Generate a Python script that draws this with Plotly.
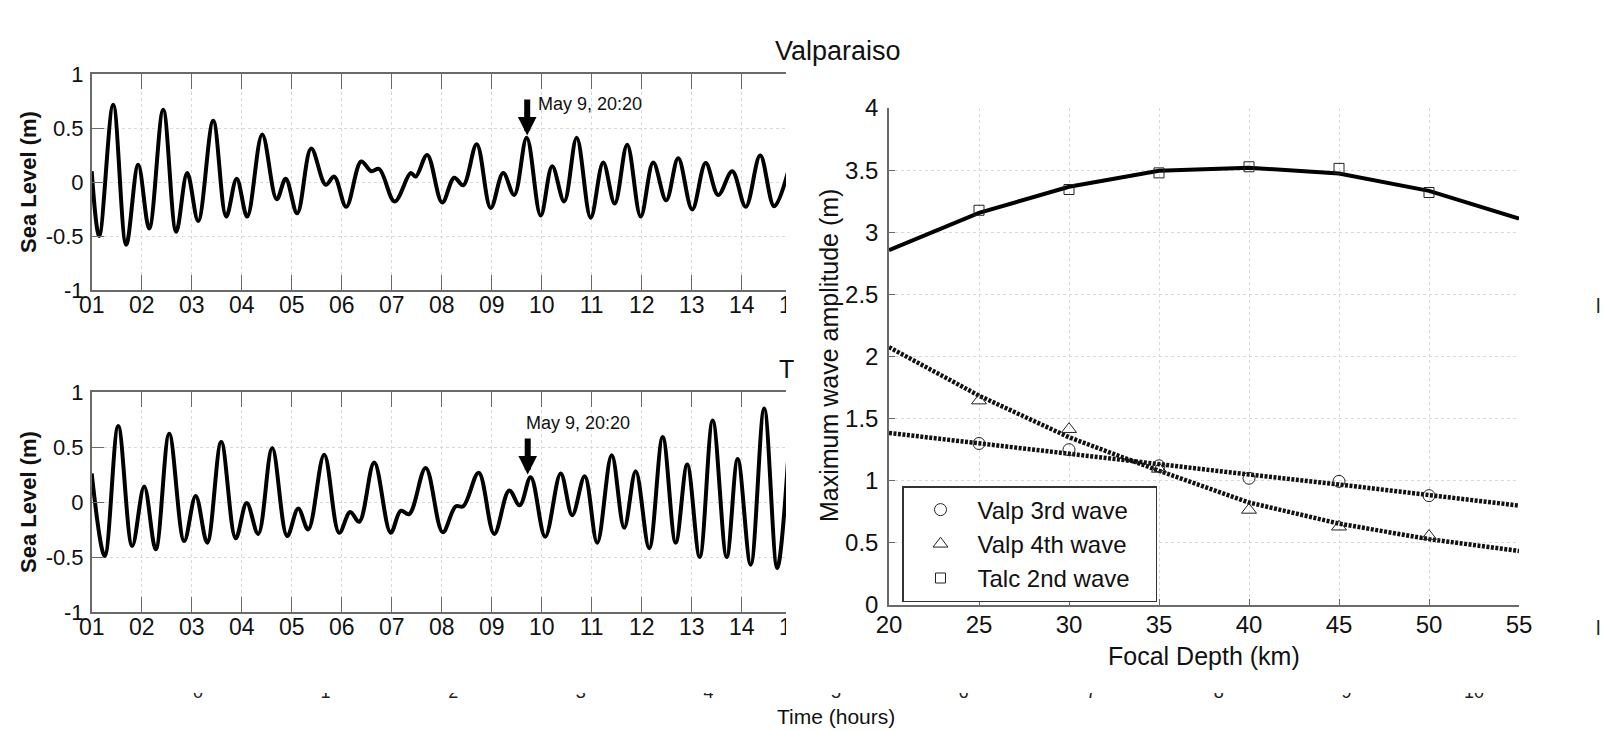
import plotly.graph_objects as go

# ---------------- data ----------------
# Left panels: sea level time series (hours since 01, metres), read at the turning points
valp_t = [1.0, 1.15, 1.43, 1.69, 1.93, 2.15, 2.43, 2.69, 2.91, 3.13, 3.43, 3.69, 3.90, 4.11, 4.41,
          4.70, 4.88, 5.11, 5.39, 5.68, 5.85, 6.09, 6.39, 6.59, 6.75, 7.06, 7.38, 7.48, 7.71, 8.01,
          8.25, 8.43, 8.70, 8.98, 9.23, 9.45, 9.70, 9.98, 10.21, 10.45, 10.70, 10.98, 11.23, 11.46,
          11.71, 11.98, 12.23, 12.49, 12.73, 13.01, 13.28, 13.53, 13.81, 14.08, 14.37, 14.65, 14.93]
valp_v = [0.10, -0.50, 0.715, -0.58, 0.16, -0.43, 0.67, -0.46, 0.083, -0.36, 0.567, -0.32, 0.03,
          -0.32, 0.44, -0.16, 0.03, -0.29, 0.31, -0.025, 0.05, -0.23, 0.19, 0.10, 0.12, -0.18, 0.083,
          0.05, 0.25, -0.19, 0.04, -0.03, 0.35, -0.24, 0.083, -0.12, 0.41, -0.31, 0.145, -0.18, 0.41,
          -0.33, 0.18, -0.20, 0.345, -0.32, 0.18, -0.17, 0.22, -0.255, 0.175, -0.12, 0.10, -0.23,
          0.245, -0.225, 0.10]

talc_t = [1.0, 1.26, 1.53, 1.81, 2.05, 2.28, 2.55, 2.85, 3.08, 3.31, 3.59, 3.88, 4.10, 4.33, 4.61,
          4.91, 5.13, 5.33, 5.65, 5.95, 6.17, 6.35, 6.65, 6.98, 7.18, 7.35, 7.68, 8.02, 8.28, 8.43,
          8.74, 9.05, 9.35, 9.56, 9.78, 10.07, 10.38, 10.61, 10.86, 11.11, 11.40, 11.65, 11.88,
          12.15, 12.42, 12.68, 12.91, 13.16, 13.42, 13.70, 13.92, 14.18, 14.45, 14.71, 14.93]
talc_v = [0.26, -0.49, 0.69, -0.40, 0.14, -0.43, 0.62, -0.355, 0.055, -0.37, 0.546, -0.33, -0.01,
          -0.29, 0.49, -0.31, -0.06, -0.25, 0.43, -0.28, -0.09, -0.18, 0.36, -0.28, -0.08, -0.11,
          0.31, -0.275, -0.04, -0.04, 0.265, -0.29, 0.105, -0.03, 0.225, -0.315, 0.26, -0.12, 0.235,
          -0.37, 0.426, -0.235, 0.28, -0.42, 0.59, -0.37, 0.34, -0.50, 0.74, -0.50, 0.39, -0.57,
          0.85, -0.60, 0.40]

hour_ticks = list(range(1, 16))
hour_labels = ["%02d" % h for h in hour_ticks]
sea_ticks = [-1, -0.5, 0, 0.5, 1]
sea_labels = ["-1", "-0.5", "0", "0.5", "1"]

# cut-off time axis at the bottom of the composite (only the feet of its labels show)
time_ticks = list(range(0, 11))

event_label = "May 9, 20:20"
event_hour_valp, event_val_valp = 9.71, 0.43
event_hour_talc, event_val_talc = 9.72, 0.25

# Right panel: maximum wave amplitude vs focal depth
depth = [25, 30, 35, 40, 45, 50]
valp3 = [1.30, 1.25, 1.12, 1.02, 0.995, 0.88]
valp4 = [1.645, 1.415, 1.095, 0.765, 0.63, 0.555]
talc2 = [3.177, 3.344, 3.478, 3.527, 3.514, 3.32]

fit_depth = [20, 25, 30, 35, 40, 45, 50, 55]
valp3_fit = [1.385, 1.30, 1.22, 1.135, 1.05, 0.97, 0.885, 0.80]
valp4_fit = [2.075, 1.685, 1.35, 1.08, 0.825, 0.655, 0.53, 0.435]
talc2_fit = [2.855, 3.156, 3.366, 3.495, 3.52, 3.473, 3.333, 3.11]

depth_ticks = [20, 25, 30, 35, 40, 45, 50, 55]
amp_ticks = [0, 0.5, 1, 1.5, 2, 2.5, 3, 3.5, 4]

series_names = ["Valp 3rd wave", "Valp 4th wave", "Talc 2nd wave"]

# ---------------- layout helpers ----------------
# the page body has an 8px margin, so the figure starts 8px in from the window corner
OFF = 8
W, H = 1600, 723
def px(x):
    return (x - OFF) / W
def py(y):
    return 1 - (y - OFF) / H

FONT = "Arial, Liberation Sans, Helvetica, sans-serif"
GRID = "#d9d9d9"
AXIS = "#6a6a6a"
PAD = "\u00a0\u00a0\u00a0"

fig = go.Figure()

fig.add_trace(go.Scatter(x=valp_t, y=valp_v, mode="lines", line=dict(color="black", width=4, shape="spline", smoothing=1.0),
                         xaxis="x", yaxis="y", showlegend=False))
fig.add_trace(go.Scatter(x=talc_t, y=talc_v, mode="lines", line=dict(color="black", width=4, shape="spline", smoothing=1.0),
                         xaxis="x2", yaxis="y2", showlegend=False))

# right panel fitted curves
fig.add_trace(go.Scatter(x=fit_depth, y=talc2_fit, mode="lines", line=dict(color="black", width=4),
                         xaxis="x3", yaxis="y3", showlegend=False))
fig.add_trace(go.Scatter(x=fit_depth, y=valp3_fit, mode="lines", line=dict(color="#111", width=4.5, dash="3px,1.5px"),
                         xaxis="x3", yaxis="y3", showlegend=False))
fig.add_trace(go.Scatter(x=fit_depth, y=valp4_fit, mode="lines", line=dict(color="#111", width=4.5, dash="3px,1.5px"),
                         xaxis="x3", yaxis="y3", showlegend=False))

mk_line = dict(color="#222222", width=1)
fig.add_trace(go.Scatter(x=depth, y=valp3, mode="markers", name=series_names[0] + PAD,
                         marker=dict(symbol="circle-open", size=12, color="#222222", line=mk_line),
                         xaxis="x3", yaxis="y3"))
fig.add_trace(go.Scatter(x=depth, y=valp4, mode="markers", name=series_names[1] + PAD,
                         marker=dict(symbol="triangle-up-open", size=13, color="#222222", line=mk_line),
                         xaxis="x3", yaxis="y3"))
fig.add_trace(go.Scatter(x=depth, y=talc2, mode="markers", name=series_names[2] + PAD,
                         marker=dict(symbol="square-open", size=10, color="#222222", line=mk_line),
                         xaxis="x3", yaxis="y3"))

# invisible trace so the cut-off time axis is laid out
fig.add_trace(go.Scatter(x=[0, 10], y=[0, 0], mode="markers", marker=dict(opacity=0, size=1),
                         xaxis="x4", yaxis="y4", showlegend=False, hoverinfo="skip"))

left_dom = [px(91.7), px(791.7)]
common_x_left = dict(range=[1, 15], tickvals=hour_ticks, ticktext=hour_labels, ticks="inside", ticklen=15,
                     tickcolor=AXIS, tickwidth=1, showline=True, linecolor=AXIS, linewidth=1.5, mirror="ticks",
                     showgrid=True, gridcolor=GRID, griddash="dot", gridwidth=1, zeroline=False,
                     tickfont=dict(family=FONT, size=23, color="#111"), ticklabelstandoff=-6, domain=left_dom,
                     automargin=False)
common_y_left = dict(range=[-1, 1], tickvals=sea_ticks, ticktext=sea_labels, ticks="inside", ticklen=13,
                     tickcolor=AXIS, tickwidth=1, showline=True, linecolor=AXIS, linewidth=1.5, mirror=False,
                     showgrid=True, gridcolor=GRID, griddash="dot", gridwidth=1, zeroline=False,
                     tickfont=dict(family=FONT, size=22, color="#111"), ticklabelstandoff=2, automargin=False)

fig.update_layout(
    template="none",
    width=W, height=H, margin=dict(l=0, r=0, t=0, b=0, pad=0, autoexpand=False),
    paper_bgcolor="white", plot_bgcolor="white",
    font=dict(family=FONT, color="#111"),
    xaxis=dict(common_x_left, anchor="y"),
    yaxis=dict(common_y_left, anchor="x", domain=[py(290), py(74)]),
    xaxis2=dict(common_x_left, anchor="y2"),
    yaxis2=dict(common_y_left, anchor="x2", domain=[py(612), py(392)]),
    xaxis3=dict(anchor="y3", domain=[px(889), px(1519)], range=[20, 55], tickvals=depth_ticks,
                ticks="inside", ticklen=6, tickcolor=AXIS, showline=True, linecolor=AXIS, linewidth=1.5,
                showgrid=True, gridcolor=GRID, griddash="dot", gridwidth=1, zeroline=False,
                tickfont=dict(family=FONT, size=24, color="#111"), ticklabelstandoff=-3, automargin=False),
    yaxis3=dict(anchor="x3", domain=[py(605), py(108)], range=[0, 4], tickvals=amp_ticks,
                ticks="inside", ticklen=6, tickcolor=AXIS, showline=True, linecolor=AXIS, linewidth=1.5,
                showgrid=True, gridcolor=GRID, griddash="dot", gridwidth=1, zeroline=False,
                tickfont=dict(family=FONT, size=24, color="#111"), ticklabelstandoff=4, automargin=False),
    xaxis4=dict(anchor="y4", domain=[px(198), px(1474)], range=[0, 10], tickvals=time_ticks,
                ticks="", showline=False, showgrid=False, zeroline=False, ticklabelstandoff=0,
                tickfont=dict(family=FONT, size=18, color="#222"), automargin=False, fixedrange=True),
    yaxis4=dict(anchor="x4", domain=[py(679), py(675)], range=[-1, 1], showticklabels=False, ticks="",
                showline=False, showgrid=False, zeroline=False, fixedrange=True, automargin=False),
    legend=dict(x=px(902), y=py(486), xanchor="left", yanchor="top", bgcolor="white",
                bordercolor="#333", borderwidth=1.5, font=dict(family=FONT, size=24, color="#111"),
                itemwidth=64, tracegroupgap=0),
    showlegend=True,
)

# clip of the left panels (they are cut at the right edge in the composite)
fig.add_shape(type="rect", xref="paper", yref="paper", x0=px(786), x1=px(806), y0=py(650), y1=py(60),
              fillcolor="white", line=dict(width=0), layer="above")
# the composite cuts away all but the feet of the lower time-axis labels
fig.add_shape(type="rect", xref="paper", yref="paper", x0=px(150), x1=px(1540), y0=py(693), y1=py(668),
              fillcolor="white", line=dict(width=0), layer="above")

def label(text, x, y, size, angle=0, color="#111"):
    return dict(text=text, x=px(x), y=py(y), xref="paper", yref="paper", xanchor="center", yanchor="middle",
                textangle=angle, showarrow=False, font=dict(family=FONT, size=size, color=color))

ann = []
for yc in (182, 502):
    ann.append(label("<b>Sea Level (m)</b>", 28, yc, 22, -90))
ann.append(label("Maximum wave amplitude (m)", 829, 356, 25, -90))
ann.append(label("Focal Depth (km)", 1204, 656, 25))
ann.append(label("Valparaiso", 838, 51, 27))
ann.append(label("T", 786, 369, 25))
ann.append(label("Time (hours)", 836, 716, 21))
for yc in (306, 628):
    ann.append(label("l", 1598, yc, 20, 0, "#222"))

# event arrows
for xr, yr, hx, hv in (("x", "y", event_hour_valp, event_val_valp), ("x2", "y2", event_hour_talc, event_val_talc)):
    ann.append(dict(text=" ", x=hx, y=hv, xref=xr, yref=yr, ax=0, ay=-38, axref="pixel", ayref="pixel",
                    showarrow=True, arrowhead=2, arrowsize=0.62, arrowwidth=6, arrowcolor="black",
                    standoff=0, font=dict(size=1)))
ann.append(dict(text=event_label, x=9.89, y=0.72, xref="x", yref="y", xanchor="left", yanchor="middle",
                showarrow=False, font=dict(family=FONT, size=18, color="#111")))
ann.append(dict(text=event_label, x=9.65, y=0.72, xref="x2", yref="y2", xanchor="left", yanchor="middle",
                showarrow=False, font=dict(family=FONT, size=18, color="#111")))

fig.update_layout(annotations=ann)
fig.write_html("out.html")
